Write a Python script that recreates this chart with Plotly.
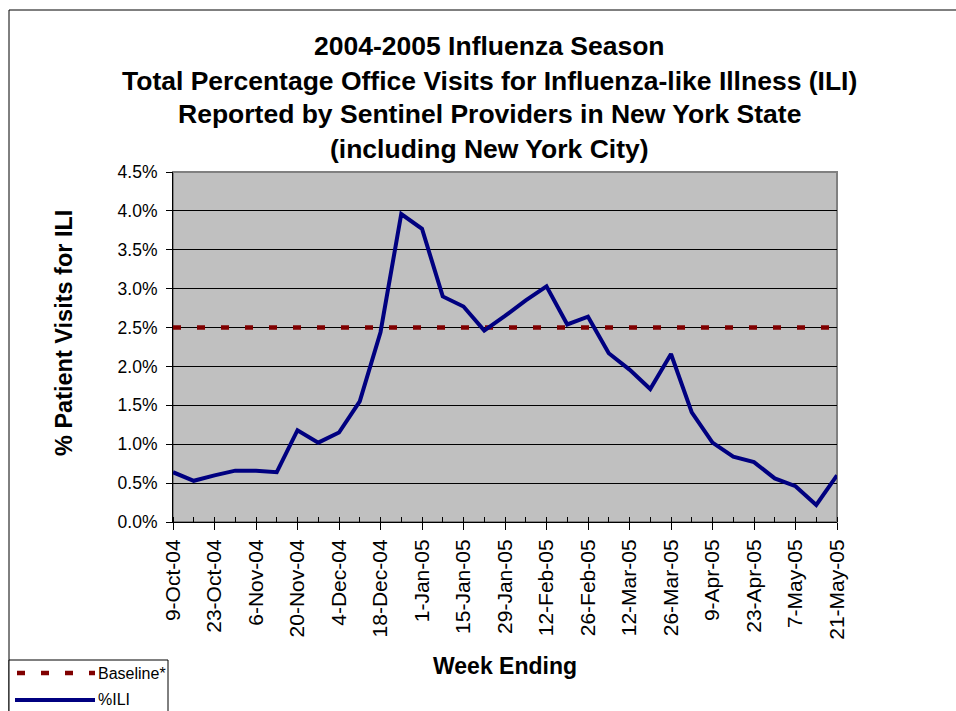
import plotly.graph_objects as go
import pandas as pd

# ---------------- data ----------------
week_ending = pd.date_range("2004-10-09", "2005-05-21", freq="7D")  # 33 weeks
ili_pct = [0.64, 0.53, 0.60, 0.66, 0.66, 0.64, 1.18, 1.02, 1.15, 1.55,
           2.44, 3.96, 3.77, 2.90, 2.77, 2.46, 2.65, 2.85, 3.03, 2.54,
           2.64, 2.17, 1.96, 1.71, 2.16, 1.41, 1.02, 0.84, 0.77, 0.56,
           0.46, 0.22, 0.60]
baseline_pct = [2.5] * len(ili_pct)
label_dates = week_ending[::2]
y_ticks = [0.0, 0.5, 1.0, 1.5, 2.0, 2.5, 3.0, 3.5, 4.0, 4.5]
y_tick_labels = ["0.0%", "0.5%", "1.0%", "1.5%", "2.0%", "2.5%", "3.0%", "3.5%", "4.0%", "4.5%"]

title_lines = ["2004-2005 Influenza Season",
               "Total Percentage Office Visits for Influenza-like Illness (ILI)",
               "Reported by Sentinel Providers in New York State",
               "(including New York City)"]

# ---------------- layout geometry (pixels) ----------------
W, H = 956, 711
ML, MR, MT, MB = 173, 119, 172, 189
PW, PH = W - ML - MR, H - MT - MB


def px(x):
    return (x - ML) / PW


def py(y):
    return (H - MB - y) / PH


FONT = "Liberation Sans, Arial, sans-serif"
NAVY = "#000080"
MAROON = "#800000"

fig = go.Figure()
fig.add_trace(go.Scatter(x=week_ending, y=baseline_pct, mode="lines", name="Baseline*",
                         line=dict(color=MAROON, width=4.5, dash="8px,16px"),
                         showlegend=False, hoverinfo="skip"))
fig.add_trace(go.Scatter(x=week_ending, y=ili_pct, mode="lines", name="%ILI",
                         line=dict(color=NAVY, width=4), showlegend=False))

shapes = [
    # outer chart border
    dict(type="rect", xref="paper", yref="paper", x0=px(9), x1=px(990), y0=py(760), y1=py(10),
         line=dict(color="#000000", width=1), fillcolor="rgba(0,0,0,0)", layer="below"),
    # plot area frame (gray)
    dict(type="rect", xref="paper", yref="paper", x0=0, x1=1, y0=0, y1=1,
         line=dict(color="#808080", width=2), fillcolor="rgba(0,0,0,0)", layer="below"),
    # legend box
    dict(type="rect", xref="paper", yref="paper", x0=px(9), x1=px(168), y0=py(760), y1=py(660),
         line=dict(color="#000000", width=1), fillcolor="white", layer="above"),
    # legend samples
    dict(type="line", xref="paper", yref="paper", x0=px(17), x1=px(95), y0=py(673), y1=py(673),
         line=dict(color=MAROON, width=4.5, dash="8px,16px"), layer="above"),
    dict(type="line", xref="paper", yref="paper", x0=px(15), x1=px(95), y0=py(700), y1=py(700),
         line=dict(color=NAVY, width=4), layer="above"),
]

annotations = []
title_y = [46, 81, 114, 149]
for t, yy in zip(title_lines, title_y):
    annotations.append(dict(text="<b>%s</b>" % t, xref="paper", yref="paper", x=px(489), y=py(yy),
                            xanchor="center", yanchor="middle", showarrow=False,
                            font=dict(family=FONT, size=26.5, color="black")))
annotations.append(dict(text="<b>Week Ending</b>", xref="paper", yref="paper", x=px(505), y=py(666),
                        xanchor="center", yanchor="middle", showarrow=False,
                        font=dict(family=FONT, size=23, color="black")))
annotations.append(dict(text="<b>% Patient Visits for ILI</b>", xref="paper", yref="paper",
                        x=px(64), y=py(333), xanchor="center", yanchor="middle", textangle=-90,
                        showarrow=False, font=dict(family=FONT, size=23.5, color="black")))
annotations.append(dict(text="Baseline*", xref="paper", yref="paper", x=px(96), y=py(673),
                        xanchor="left", yanchor="middle", showarrow=False,
                        font=dict(family=FONT, size=16, color="black")))
annotations.append(dict(text="%ILI", xref="paper", yref="paper", x=px(96), y=py(699),
                        xanchor="left", yanchor="middle", showarrow=False,
                        font=dict(family=FONT, size=16, color="black")))

fig.update_layout(
    width=W, height=H,
    margin=dict(l=ML, r=MR, t=MT, b=MB, pad=0),
    paper_bgcolor="white", plot_bgcolor="#C0C0C0",
    font=dict(family=FONT, color="black"),
    showlegend=False,
    shapes=shapes, annotations=annotations,
    xaxis=dict(type="date", range=[week_ending[0], week_ending[-1]],
               tickvals=list(label_dates), tickformat="%-d-%b-%y", tickangle=-90,
               ticks="outside", ticklen=7, tickcolor="black", tickwidth=1,
               ticklabelstandoff=1,
               minor=dict(tickvals=list(week_ending), ticks="inside", ticklen=5,
                          tickcolor="black", showgrid=False),
               showgrid=False, zeroline=False, showline=True, linecolor="black", linewidth=1,
               tickfont=dict(family=FONT, size=21, color="black")),
    yaxis=dict(range=[0, 4.5], tickvals=y_ticks, ticktext=y_tick_labels,
               ticks="outside", ticklen=6, tickcolor="black", tickwidth=1,
               ticklabelstandoff=5,
               showgrid=True, gridcolor="black", gridwidth=1, zeroline=False,
               showline=True, linecolor="black", linewidth=1,
               tickfont=dict(family=FONT, size=17.5, color="black")),
)

fig.write_html("out.html", config={"displayModeBar": False},
               post_script="document.body.style.margin='0';document.body.style.overflow='hidden';")
